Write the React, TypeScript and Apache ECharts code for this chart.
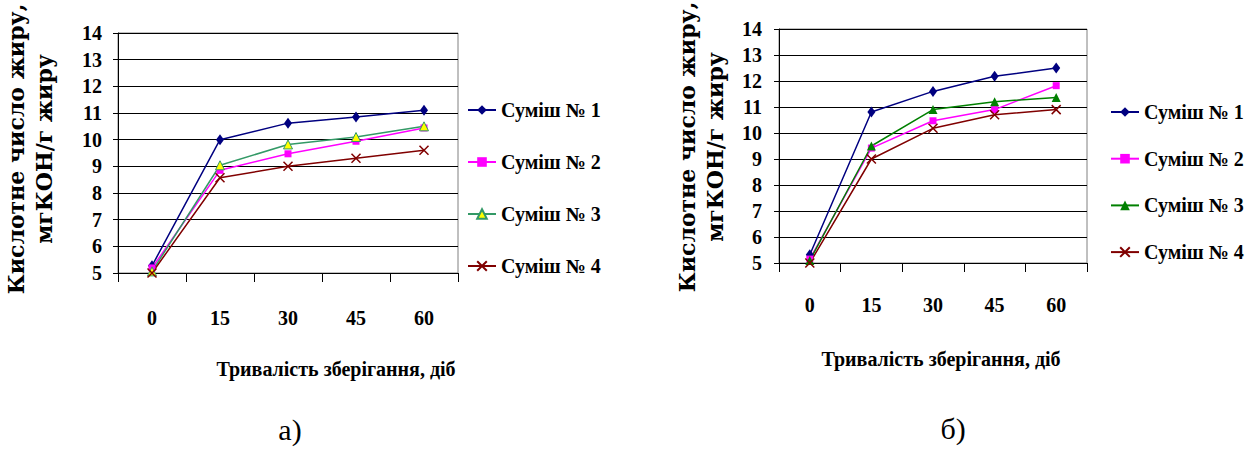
import React, { useEffect, useRef } from "react";
import * as echarts from "echarts";

// ---- data ----
const categories = ["0", "15", "30", "45", "60"];
const seriesNames = ["Суміш № 1", "Суміш № 2", "Суміш № 3", "Суміш № 4"];

// chart а)
const a1 = [5.27, 10.0, 10.62, 10.85, 11.1];
const a2 = [5.19, 8.85, 9.47, 9.94, 10.44];
const a3 = [5.06, 9.04, 9.82, 10.1, 10.5];
const a4 = [5.0, 8.57, 9.0, 9.3, 9.6];

// chart б)
const b1 = [5.32, 10.81, 11.6, 12.18, 12.5];
const b2 = [5.15, 9.42, 10.47, 10.9, 11.82];
const b3 = [5.1, 9.5, 10.9, 11.2, 11.37];
const b4 = [5.0, 9.0, 10.18, 10.7, 10.9];

const yMin = 5;
const yMax = 14;
const yStep = 1;

const yTitle = "Кислотне число жиру,\nмгКОН/г жиру";
const xTitle = "Тривалість зберігання, діб";

const SERIF = '"Liberation Serif", "Times New Roman", serif';
const WIDE_SERIF = '"DejaVu Serif", "Liberation Serif", serif';
const X_PATH = "path://M0,0L10,10M10,0L0,10";

type Layout = {
  grid: { left: number; top: number; width: number; height: number };
  yLabelMargin: number;
  xLabelMargin: number;
  legend: { left: number; top: number; gap: number };
  yTitle: { x: number; y: number };
  xTitle: { x: number; y: number };
  tag: { x: number; y: number; text: string };
  s3: { color: string; line: string; border: string; borderWidth: number };
};

function buildOption(data: number[][], L: Layout) {
  const styles = [
    { symbol: "diamond", size: [8, 11], color: "#000080", line: "#000080", border: "#000080", bw: 0 },
    { symbol: "rect", size: 7, color: "#FF00FF", line: "#FF00FF", border: "#FF00FF", bw: 0 },
    { symbol: "triangle", size: 9, color: L.s3.color, line: L.s3.line, border: L.s3.border, bw: L.s3.borderWidth },
    { symbol: X_PATH, size: 9, color: "#800000", line: "#800000", border: "#800000", bw: 1.5 },
  ];
  return {
    animation: false,
    grid: {
      ...L.grid,
      show: true,
      borderColor: "#808080",
      borderWidth: 1,
      backgroundColor: "transparent",
    },
    xAxis: {
      type: "category",
      data: categories,
      boundaryGap: true,
      axisLine: { show: true, lineStyle: { color: "#000", width: 1 } },
      axisTick: { show: true, length: 9, lineStyle: { color: "#000", width: 1 } },
      axisLabel: {
        margin: L.xLabelMargin,
        fontFamily: SERIF,
        fontWeight: "bold",
        fontSize: 20,
        color: "#000",
      },
      splitLine: { show: false },
    },
    yAxis: {
      type: "value",
      min: yMin,
      max: yMax,
      interval: yStep,
      axisLine: { show: true, lineStyle: { color: "#000", width: 1 } },
      axisTick: { show: true, length: 5, lineStyle: { color: "#000", width: 1 } },
      axisLabel: {
        margin: L.yLabelMargin,
        fontFamily: SERIF,
        fontWeight: "bold",
        fontSize: 20,
        color: "#000",
      },
      splitLine: { show: true, lineStyle: { color: "#000", width: 1 } },
    },
    legend: {
      orient: "vertical",
      left: L.legend.left,
      top: L.legend.top,
      itemWidth: 28,
      itemHeight: 12,
      itemGap: L.legend.gap,
      textStyle: {
        fontFamily: SERIF,
        fontWeight: "bold",
        fontSize: 20,
        lineHeight: 20,
        color: "#000",
      },
      data: seriesNames,
    },
    graphic: [
      {
        type: "text",
        x: L.yTitle.x,
        y: L.yTitle.y,
        rotation: Math.PI / 2,
        style: {
          text: yTitle,
          font: `bold 22px ${WIDE_SERIF}`,
          lineHeight: 28,
          align: "center",
          verticalAlign: "middle",
          fill: "#000",
        },
      },
      {
        type: "text",
        x: L.xTitle.x,
        y: L.xTitle.y,
        style: {
          text: xTitle,
          font: `bold 20px ${SERIF}`,
          align: "center",
          verticalAlign: "middle",
          fill: "#000",
        },
      },
      {
        type: "text",
        x: L.tag.x,
        y: L.tag.y,
        style: {
          text: L.tag.text,
          font: `30px ${SERIF}`,
          align: "center",
          verticalAlign: "middle",
          fill: "#000",
        },
      },
    ],
    series: data.map((values, i) => ({
      name: seriesNames[i],
      type: "line",
      data: values,
      symbol: styles[i].symbol,
      symbolSize: styles[i].size,
      showSymbol: true,
      lineStyle: { color: styles[i].line, width: 1.5 },
      itemStyle: {
        color: styles[i].color,
        borderColor: styles[i].border,
        borderWidth: styles[i].bw,
      },
      emphasis: { disabled: true },
    })),
  };
}

const layoutA: Layout = {
  grid: { left: 118, top: 33, width: 340, height: 240 },
  yLabelMargin: 16,
  xLabelMargin: 35,
  legend: { left: 462, top: 95, gap: 32 },
  yTitle: { x: 30, y: 149 },
  xTitle: { x: 336, y: 369 },
  tag: { x: 290, y: 429, text: "а)" },
  s3: { color: "#FFFF00", line: "#339966", border: "#339966", borderWidth: 1 },
};

const layoutB: Layout = {
  grid: { left: 159, top: 29, width: 308, height: 234 },
  yLabelMargin: 17,
  xLabelMargin: 32,
  legend: { left: 485, top: 97, gap: 26.7 },
  yTitle: { x: 81, y: 147 },
  xTitle: { x: 321, y: 359 },
  tag: { x: 333, y: 428, text: "б)" },
  s3: { color: "#008000", line: "#008000", border: "#008000", borderWidth: 0 },
};

function Panel({ option, left, width }: { option: any; left: number; width: number }) {
  const ref = useRef<HTMLDivElement>(null);
  useEffect(() => {
    if (!ref.current) return;
    const chart = echarts.init(ref.current, undefined, { renderer: "svg" });
    chart.setOption(option);
    return () => chart.dispose();
  }, [option]);
  return (
    <div
      ref={ref}
      style={{ position: "absolute", left, top: 0, width, height: 452 }}
    />
  );
}

const optionA = buildOption([a1, a2, a3, a4], layoutA);
const optionB = buildOption([b1, b2, b3, b4], layoutB);

export default function App() {
  return (
    <div
      style={{
        position: "absolute",
        left: 0,
        top: 0,
        width: 1249,
        height: 452,
        background: "#fff",
        overflow: "hidden",
      }}
    >
      <Panel option={optionA} left={0} width={620} />
      <Panel option={optionB} left={620} width={629} />
    </div>
  );
}
